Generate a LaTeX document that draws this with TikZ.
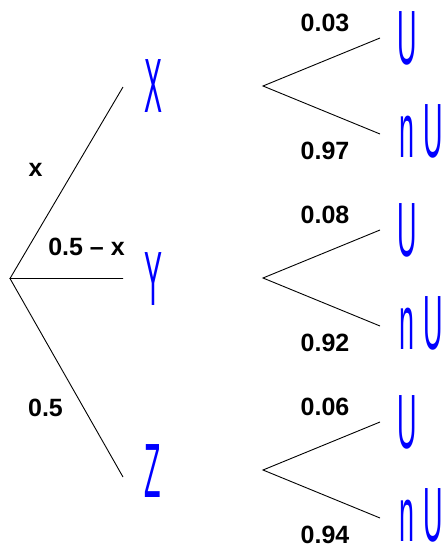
\documentclass[tikz,border=0pt]{standalone}
\usepackage{fontspec}
\setmainfont{Liberation Sans}
\newcommand{\tall}[1]{\scalebox{0.35}[1]{#1}}
\tikzset{
  event/.style={text=blue,font=\fontsize{77}{77}\selectfont,inner sep=0pt},
  prob/.style={font=\fontsize{25}{25}\selectfont\bfseries,inner sep=0pt},
  branch/.style={line width=0.9pt}
}

\begin{document}
\begin{tikzpicture}[x=1pt,y=-1pt]
  \useasboundingbox (0,0) rectangle (446,549);
  \coordinate (root) at (10,278.5);
  \node[event] (X) at (153,86) {\tall{X}};
  \node[event] (Y) at (153,279) {\tall{Y}};
  \node[event] (Z) at (153,471) {\tall{Z}};
  \coordinate (X-in) at (123,87);
  \coordinate (Y-in) at (123,278.5);
  \coordinate (Z-in) at (123,477);
  \draw[branch] (X-in) -- (root) -- (Y-in);
  \draw[branch] (root) -- (Z-in);
  \node[prob] (px) at (35.5,170) {x};
  \node[prob] (py) at (86.5,247) {0.5 -- x};
  \node[prob] (pz) at (45.5,408) {0.5};
  \foreach \n/\y/\p/\q in {X/86/0.03/0.97,Y/278/0.08/0.92,Z/470/0.06/0.94}{
    \coordinate (\n-fork) at (263,\y);
    \coordinate (\n-up) at (380,\y-48);
    \coordinate (\n-down) at (380,\y+48);
    \draw[branch] (\n-up) -- (\n-fork) -- (\n-down);
    \node[event] (\n-U) at (407,\y-48) {\tall{U}};
    \node[event] (\n-nU) at (421,\y+45) {\tall{n}\hspace{9pt}\tall{U}};
    \node[prob] (\n-p) at (325,\y-63) {\p};
    \node[prob] (\n-q) at (325,\y+65) {\q};
  }
\end{tikzpicture}
\end{document}
